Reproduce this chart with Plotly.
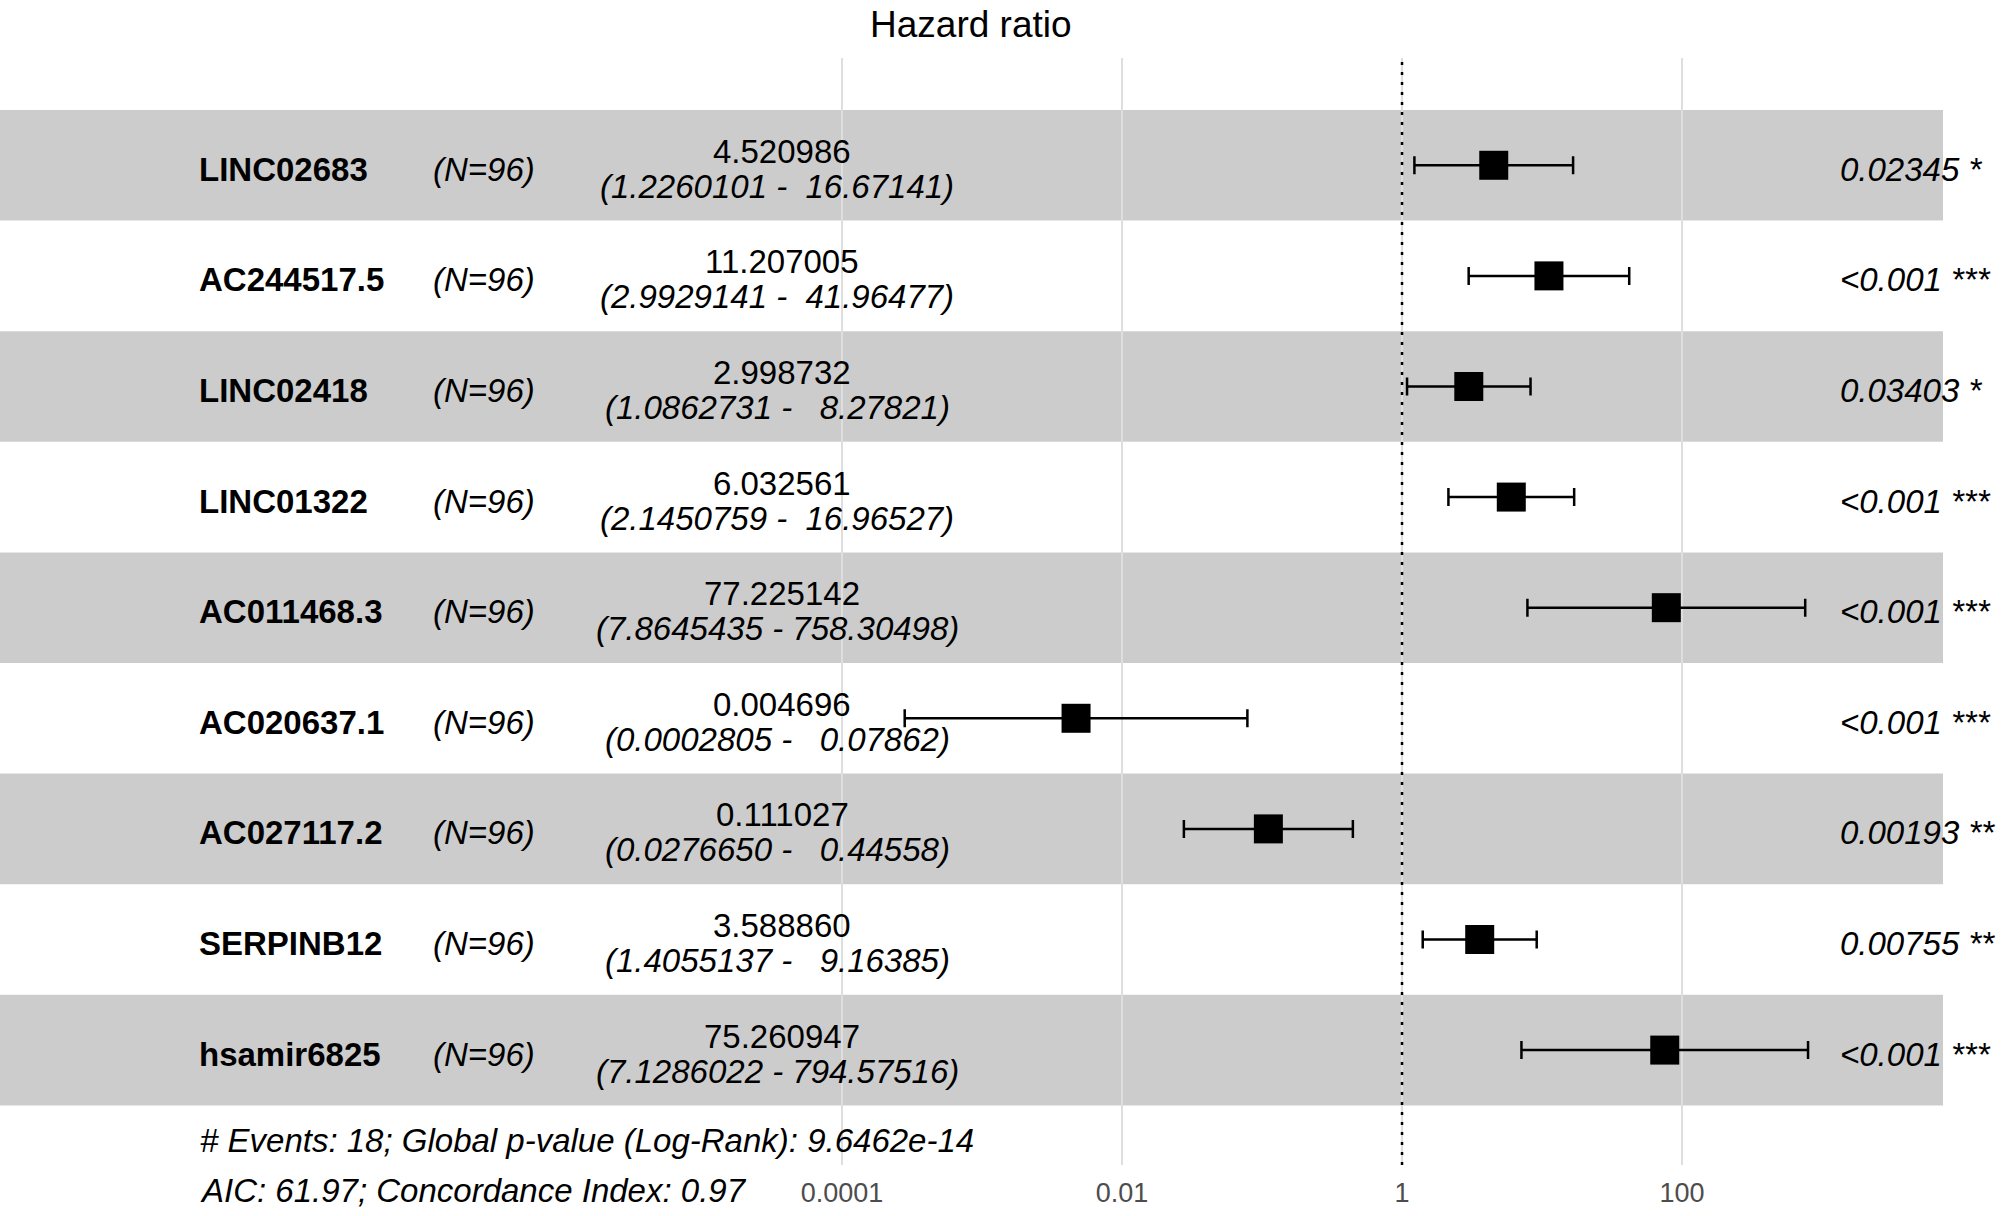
import plotly.graph_objects as go

# ---------------- data ----------------
genes = ["LINC02683", "AC244517.5", "LINC02418", "LINC01322", "AC011468.3",
         "AC020637.1", "AC027117.2", "SERPINB12", "hsamir6825"]
n_obs = [96, 96, 96, 96, 96, 96, 96, 96, 96]
hr = [4.520986, 11.207005, 2.998732, 6.032561, 77.225142,
      0.004696, 0.111027, 3.588860, 75.260947]
ci_low = [1.2260101, 2.9929141, 1.0862731, 2.1450759, 7.8645435,
          0.0002805, 0.0276650, 1.4055137, 7.1286022]
ci_high = [16.67141, 41.96477, 8.27821, 16.96527, 758.30498,
           0.07862, 0.44558, 9.16385, 794.57516]
p_labels = ["0.02345 *", "<0.001 ***", "0.03403 *", "<0.001 ***", "<0.001 ***",
            "<0.001 ***", "0.00193 **", "0.00755 **", "<0.001 ***"]
tick_vals = [0.0001, 0.01, 1, 100]
tick_text = ["0.0001", "0.01", "1", "100"]
ref_value = 1
footer_lines = ["# Events: 18; Global p-value (Log-Rank): 9.6462e-14",
                "AIC: 61.97; Concordance Index: 0.97"]
title_text = "Hazard ratio"

# ---------------- layout constants ----------------
W, H = 2006, 1216
ML, MR, MT, MB = 0, 63, 58, 51
PW = W - ML - MR
FONT = "Liberation Sans, Arial, sans-serif"
FS = 33
rows = list(range(1, len(genes) + 1))
Y_RANGE = [10.039, 0.030]

def px_x(px):
    return (px - ML) / PW

fig = go.Figure()

# dotted reference line at HR = 1
fig.add_trace(go.Scatter(
    x=[ref_value, ref_value], y=Y_RANGE, mode="lines",
    line=dict(color="black", width=2.5, dash="3px,7px"),
    hoverinfo="skip", showlegend=False))

# estimates with CI
fig.add_trace(go.Scatter(
    x=hr, y=rows, mode="markers",
    marker=dict(symbol="square", size=29, color="black", line=dict(width=0)),
    error_x=dict(type="data", symmetric=False,
                 array=[h - e for h, e in zip(ci_high, hr)],
                 arrayminus=[e - l for e, l in zip(hr, ci_low)],
                 color="black", thickness=2.5, width=9),
    showlegend=False))

shapes = []
for i in rows:
    fill = "rgba(0,0,0,0.2)" if i % 2 == 1 else "rgba(255,255,255,0.2)"
    shapes.append(dict(type="rect", xref="paper", yref="y", x0=0, x1=1,
                       y0=i - 0.5, y1=i + 0.5, fillcolor=fill,
                       line=dict(width=0), layer="between"))

def fmt_ci(lo, hi):
    return "(" + f"{lo:.7f}" + " - " + f"{hi:.5f}".rjust(9).replace(" ", "\u00a0") + ")"

ann = []
for i, g, n, e, lo, hi, p in zip(rows, genes, n_obs, hr, ci_low, ci_high, p_labels):
    ann.append(dict(x=px_x(197), y=i, xref="paper", yref="y", text=f"<b>{g}</b>",
                    xanchor="left", yanchor="middle", yshift=-4, showarrow=False,
                    font=dict(family=FONT, size=FS, color="black")))
    ann.append(dict(x=px_x(431), y=i, xref="paper", yref="y", text=f"<i>(N={n})</i>",
                    xanchor="left", yanchor="middle", yshift=-4, showarrow=False,
                    font=dict(family=FONT, size=FS, color="black")))
    ann.append(dict(x=px_x(782), y=i, xref="paper", yref="y", text=f"{e:.6f}",
                    xanchor="center", yanchor="middle", yshift=14, showarrow=False,
                    font=dict(family=FONT, size=FS, color="black")))
    ann.append(dict(x=px_x(777), y=i, xref="paper", yref="y", text=f"<i>{fmt_ci(lo, hi)}</i>",
                    xanchor="center", yanchor="middle", yshift=-21, showarrow=False,
                    font=dict(family=FONT, size=FS, color="black")))
    ann.append(dict(x=px_x(1838), y=i, xref="paper", yref="y", text=f"<i>{p}</i>",
                    xanchor="left", yanchor="middle", yshift=-4, showarrow=False,
                    font=dict(family=FONT, size=FS, color="black")))

# footer
for k, (line, ypx) in enumerate(zip(footer_lines, [1140, 1190])):
    ann.append(dict(x=px_x(198), y=(H - MB - ypx) / (H - MT - MB), xref="paper", yref="paper",
                    text=f"<i>{line}</i>", xanchor="left", yanchor="middle",
                    showarrow=False, font=dict(family=FONT, size=FS, color="black")))

# title
ann.append(dict(x=px_x(971), y=(H - MB - 25) / (H - MT - MB), xref="paper", yref="paper",
                text=title_text, xanchor="center", yanchor="middle", showarrow=False,
                font=dict(family=FONT, size=37, color="black")))

fig.update_layout(
    width=W, height=H,
    margin=dict(l=ML, r=MR, t=MT, b=MB, pad=0),
    paper_bgcolor="white", plot_bgcolor="white",
    shapes=shapes, annotations=ann, showlegend=False,
    xaxis=dict(type="log", range=[-10.014, 3.864], tickvals=tick_vals, ticktext=tick_text,
               showgrid=True, gridcolor="#dedede", gridwidth=1.5, zeroline=False,
               showline=False, ticks="outside", ticklen=4, tickcolor="rgba(0,0,0,0)",
               tickfont=dict(family=FONT, size=27, color="#4d4d4d")),
    yaxis=dict(range=Y_RANGE, showgrid=False, zeroline=False, showticklabels=False,
               showline=False, fixedrange=True),
)

fig.write_html("out.html", config={"displayModeBar": False},
               post_script="document.body.style.margin='0';document.body.style.overflow='hidden';")
